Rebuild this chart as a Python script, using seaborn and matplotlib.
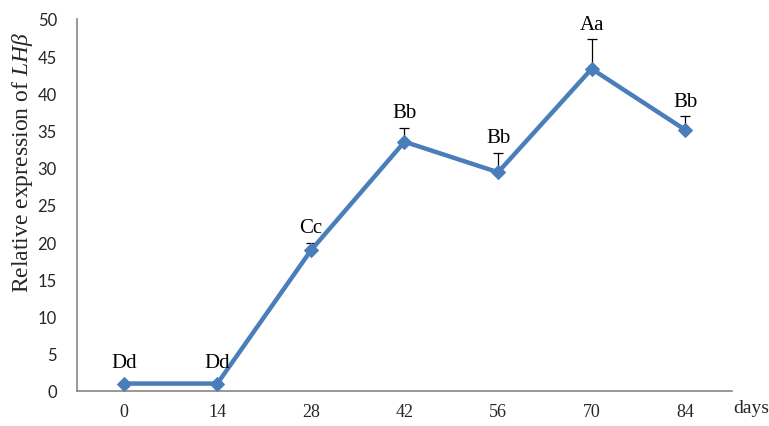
import matplotlib
matplotlib.use("Agg")
import matplotlib.pyplot as plt
import seaborn as sns
import pandas as pd
import numpy as np

# Relative LHβ expression over time
days = [0, 14, 28, 42, 56, 70, 84]
expression = [1.0, 1.0, 18.9, 33.5, 29.4, 43.3, 35.1]
sd = [0.0, 0.0, 1.0, 1.9, 2.6, 4.0, 1.8]
groups = ["Dd", "Dd", "Cc", "Bb", "Bb", "Aa", "Bb"]
y_ticks = [0, 5, 10, 15, 20, 25, 30, 35, 40, 45, 50]

df = pd.DataFrame({"day": days, "expr": expression, "sd": sd, "group": groups})

sns.set_style("white")
plt.rcParams["mathtext.fontset"] = "custom"
plt.rcParams["mathtext.rm"] = "Liberation Serif"
plt.rcParams["mathtext.it"] = "Liberation Serif:italic"

fig = plt.figure(figsize=(7.69, 4.27), dpi=100)
ax = fig.add_axes([77 / 769, 1 - 392 / 427, (732 - 77) / 769, (392 - 20) / 427])

line_color = "#4a7ebb"
axis_color = "#868686"

# upper-only error bars
ax.errorbar(df["day"], df["expr"], yerr=[np.zeros(len(df)), df["sd"]],
            fmt="none", ecolor="black", elinewidth=0.9, capsize=3.5,
            capthick=0.9, zorder=2)

sns.lineplot(data=df, x="day", y="expr", ax=ax, color=line_color,
             linewidth=3.2, marker="D", markersize=7.5,
             markeredgecolor=line_color, markerfacecolor=line_color,
             zorder=3)

# significance letters above each point
for d, v, e, g in zip(df["day"], df["expr"], df["sd"], df["group"]):
    off = 4 if e > 0 else 8
    ax.annotate(g, xy=(d, v + e), xytext=(0, off), textcoords="offset points",
                ha="center", va="bottom", fontsize=15,
                family="Liberation Serif", color="black")

ax.set_xlim(-7, 91)
ax.set_ylim(0, 50)
ax.set_xticks(days)
ax.set_xticklabels([str(d) for d in days], family="Liberation Serif",
                   fontsize=13)
ax.set_yticks(y_ticks)
ax.set_yticklabels([str(t) for t in y_ticks], family="Lato", fontsize=12)

ax.tick_params(axis="x", length=0, pad=9)
ax.tick_params(axis="y", length=6.5, width=1, color=axis_color, direction="out",
               pad=8)

for side in ["top", "right"]:
    ax.spines[side].set_visible(False)
for side in ["left", "bottom"]:
    ax.spines[side].set_color(axis_color)
    ax.spines[side].set_linewidth(1.2)

ax.set_xlabel("")
ax.set_ylabel(r"Relative expression of $\mathit{LH\beta}$",
              family="Liberation Serif", fontsize=17, va="center")
ax.yaxis.set_label_coords(-0.083, 0.616)

fig.text(751 / 769, 1 - 409 / 427, "days", ha="center", va="center",
         family="Liberation Serif", fontsize=14)

fig.savefig("out.png", dpi=100, facecolor="white")
